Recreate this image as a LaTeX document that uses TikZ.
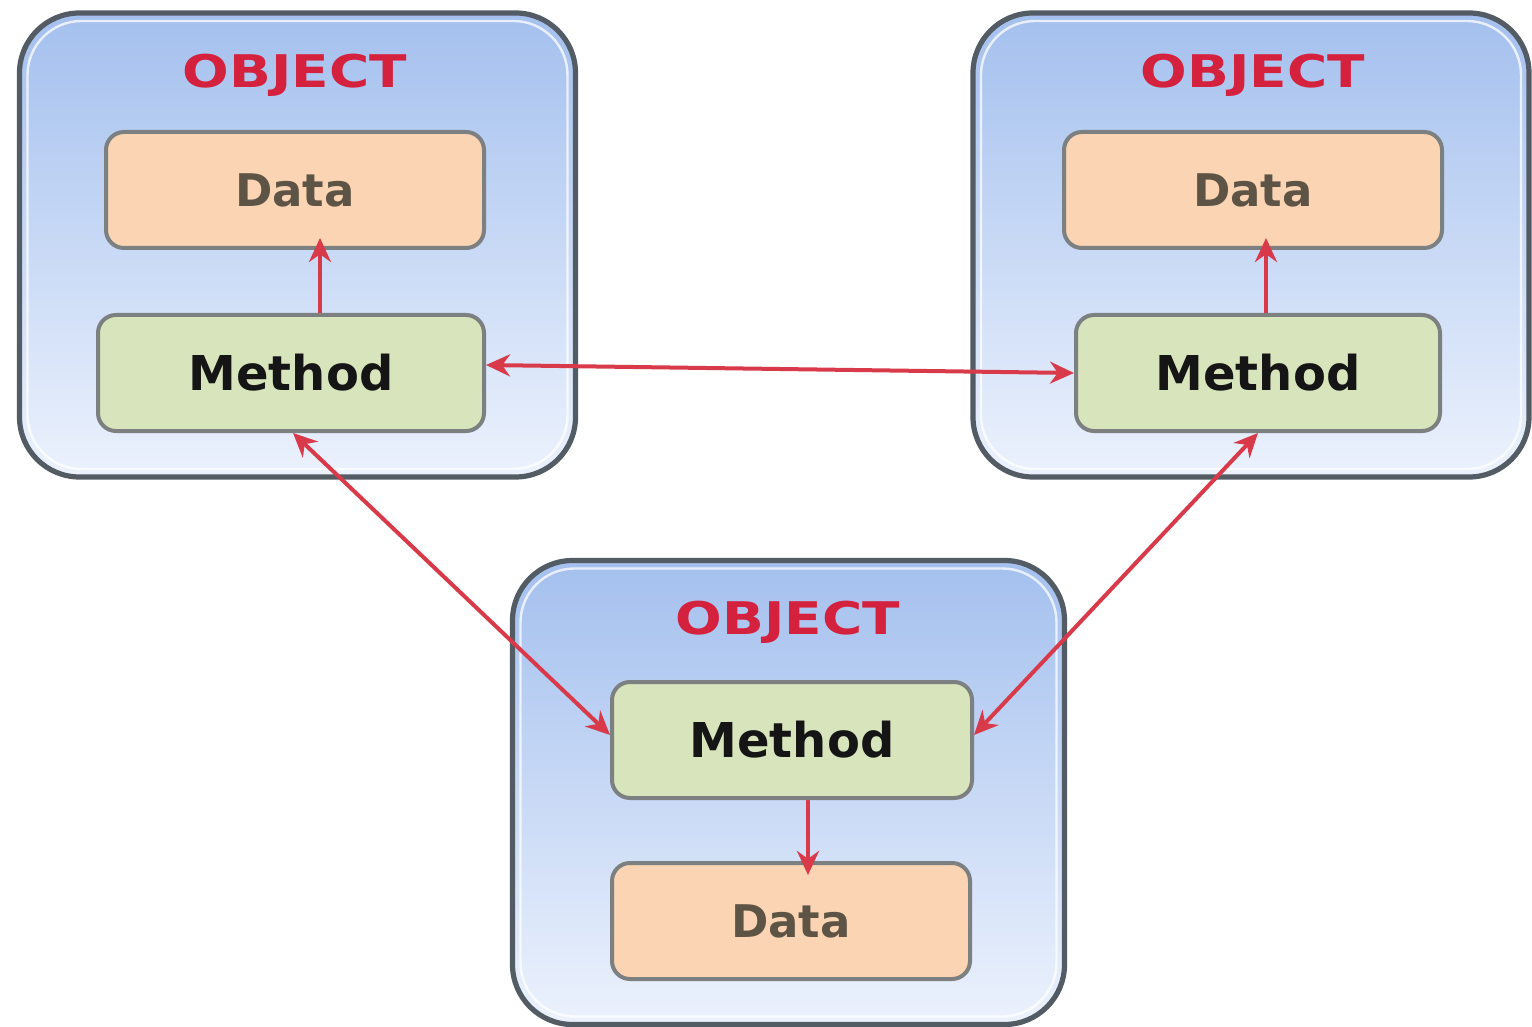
\documentclass[tikz,border=0pt]{standalone}
\usepackage{graphicx}
\usepackage{fontspec}
\setmainfont{DejaVu Sans}
\usetikzlibrary{arrows.meta}
\definecolor{objtop}{HTML}{A4C0EE}
\definecolor{objbot}{HTML}{ECF2FD}
\definecolor{objborder}{HTML}{535B64}
\definecolor{datafill}{HTML}{FBD4B4}
\definecolor{methfill}{HTML}{D8E4BC}
\definecolor{innerborder}{HTML}{7C8080}
\definecolor{objred}{HTML}{D4213D}
\definecolor{datatext}{HTML}{5E5446}
\definecolor{methtext}{HTML}{151515}
\definecolor{arrowred}{HTML}{D83A4A}
\begin{document}
\begin{tikzpicture}[x=0.5pt,y=-0.5pt,
  objbox/.style={rounded corners=30pt, draw=objborder, line width=2.6pt,
    top color=objtop, bottom color=objbot, inner sep=0pt,
    minimum width=278pt, minimum height=232pt},
  gloss/.style={rounded corners=27pt, draw=white, line width=1.2pt, opacity=0.75,
    fill=none, inner sep=0pt, minimum width=270pt, minimum height=224pt},
  datab/.style={rounded corners=9pt, draw=innerborder, line width=2pt, fill=datafill,
    minimum height=58pt, inner sep=0pt, text=datatext,
    font=\bfseries\fontsize{22.5}{22.5}\selectfont},
  methb/.style={rounded corners=9pt, draw=innerborder, line width=2pt, fill=methfill,
    minimum height=58pt, inner sep=0pt, text=methtext,
    font=\bfseries\fontsize{24}{24}\selectfont},
  objtitle/.style={text=objred, inner sep=0pt, font=\bfseries\fontsize{22.5}{22.5}\selectfont},
  link/.style={draw=arrowred, line width=2pt, -{Stealth[length=12pt,width=11pt]}},
  dlink/.style={draw=arrowred, line width=2pt, {Stealth[length=12pt,width=11pt]}-{Stealth[length=12pt,width=11pt]}}
]
\useasboundingbox (0,0) rectangle (1532,1027);
\fill[white] (0,0) rectangle (1532,1027);

% outer objects
\node[objbox] (o1) at (297.5,245) {};
\node[gloss] at (297.5,245) {};
\node[objbox] (o2) at (1251,245) {};
\node[gloss] at (1251,245) {};
\node[objbox, minimum width=276pt] (o3) at (788.5,792.5) {};
\node[gloss, minimum width=268pt] at (788.5,792.5) {};

% titles
\node[objtitle] (t1) at (295,75) {\scalebox{1.22}[1]{OBJECT}};
\node[objtitle] (t2) at (1253,75) {\scalebox{1.22}[1]{OBJECT}};
\node[objtitle] (t3) at (788,622) {\scalebox{1.22}[1]{OBJECT}};

% inner boxes
\node[datab, minimum width=189pt] (d1) at (295,190) {Data};
\node[methb, minimum width=193pt] (m1) at (291,373) {Method};
\node[datab, minimum width=189pt] (d2) at (1253,190) {Data};
\node[methb, minimum width=182pt] (m2) at (1258,373) {Method};
\node[methb, minimum width=180pt] (m3) at (792,740) {Method};
\node[datab, minimum width=179pt] (d3) at (791,921) {Data};

% connectors
\draw[link, shorten >=-6pt] (m1.north -| 320,0) -- (d1.south -| 320,0);
\draw[link, shorten >=-6pt] (m2.north -| 1266,0) -- (d2.south -| 1266,0);
\draw[link, shorten >=-7pt] (m3.south -| 808,0) -- (d3.north -| 808,0);
\draw[dlink] ([yshift=4pt]m1.east) -- (m2.west);
\draw[dlink] ([xshift=1pt]m1.south) -- ([yshift=2.5pt]m3.west);
\draw[dlink] (m2.south) -- ([yshift=2.5pt]m3.east);
\end{tikzpicture}
\end{document}
